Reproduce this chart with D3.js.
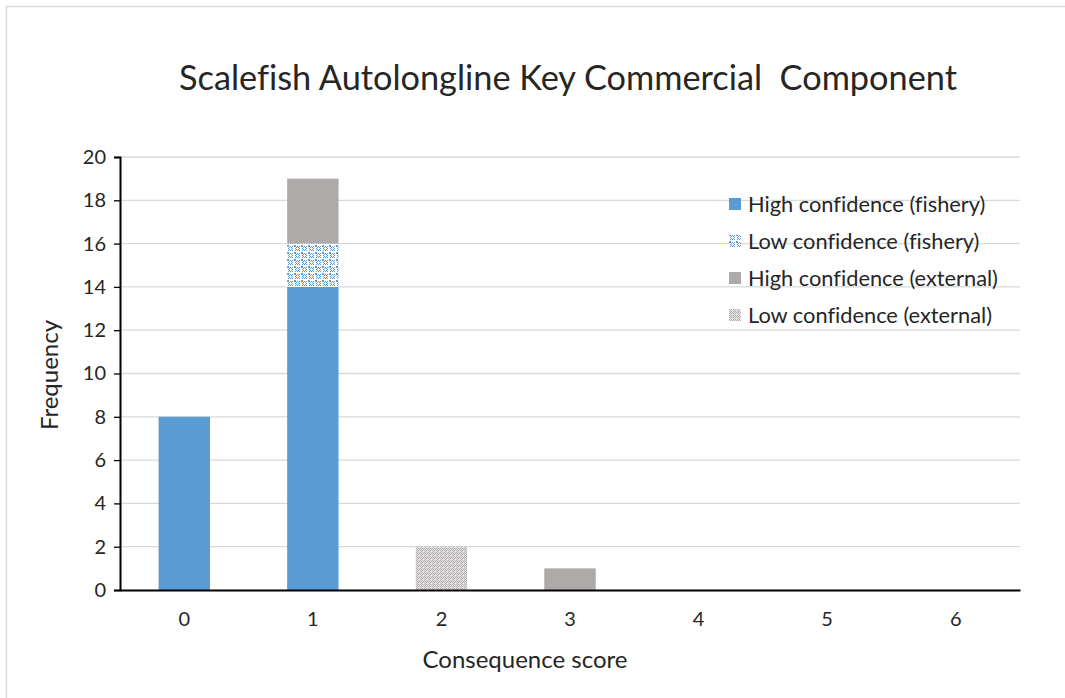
<!DOCTYPE html>
<html>
<head>
<meta charset="utf-8">
<script src="https://cdn.jsdelivr.net/npm/d3@7"></script>
<style>
  body { margin: 0; background: #fff; }
  svg text { font-family: Lato, "Open Sans", sans-serif; fill: #262626; font-variant-ligatures: none; }
</style>
</head>
<body>
<svg id="chart" width="1065" height="698"></svg>
<script>
var scores = ['0', '1', '2', '3', '4', '5', '6'];
var highFishery = [8, 14, 0, 0, 0, 0, 0];
var lowFishery = [0, 2, 0, 0, 0, 0, 0];
var highExternal = [0, 3, 0, 1, 0, 0, 0];
var lowExternal = [0, 0, 2, 0, 0, 0, 0];
var seriesNames = ['High confidence (fishery)', 'Low confidence (fishery)',
                   'High confidence (external)', 'Low confidence (external)'];
var yTicks = [0, 2, 4, 6, 8, 10, 12, 14, 16, 18, 20];

var svg = d3.select('#chart');
var defs = svg.append('defs');

function px(p, x0, y0, w, h, c) {
  p.append('rect').attr('x', x0).attr('y', y0).attr('width', w).attr('height', h).attr('fill', c);
}

// blue lattice pattern (open diamonds)
var p1 = defs.append('pattern').attr('id', 'lowFish')
  .attr('patternUnits', 'userSpaceOnUse').attr('width', 7).attr('height', 7);
px(p1, 0, 0, 7, 7, '#fff');
[[0, 0], [1, 0], [0, 1], [1, 1], [3, 1], [2, 2], [4, 2], [1, 3], [5, 3], [2, 4], [4, 4], [3, 5],
 [5, 1], [1, 5], [5, 5]].forEach(function(c) {
  px(p1, c[0], c[1], 1, 1, '#5b9bd5');
});

// grey checker pattern
var p2 = defs.append('pattern').attr('id', 'lowExt')
  .attr('patternUnits', 'userSpaceOnUse').attr('width', 4).attr('height', 4);
px(p2, 0, 0, 4, 4, '#e4e2e2');
[[0, 0], [2, 0], [1, 1], [3, 1], [0, 2], [2, 2], [1, 3]].forEach(function(c) {
  px(p2, c[0], c[1], 1, 1, '#b4b0b0');
});

var fills = ['#5b9bd5', 'url(#lowFish)', '#aeaaaa', 'url(#lowExt)'];

// chart border
svg.append('rect').attr('x', 6.5).attr('y', 6.5).attr('width', 1070).attr('height', 700)
  .attr('fill', 'none').attr('stroke', '#d9d9d9').attr('stroke-width', 1.5);

var plotLeft = 120, plotRight = 1020, plotTop = 157, plotBottom = 590;

var x = d3.scaleBand().domain(scores).range([plotLeft, plotRight]).paddingInner(0.6).paddingOuter(0.3);
var y = d3.scaleLinear().domain([0, 20]).range([plotBottom, plotTop]);

// gridlines
svg.append('g').selectAll('line').data(yTicks.slice(1)).enter().append('line')
  .attr('x1', plotLeft).attr('x2', plotRight)
  .attr('y1', function(d) { return y(d); }).attr('y2', function(d) { return y(d); })
  .attr('stroke', '#d9d9d9').attr('stroke-width', 1.3);

// stacked bars
var table = scores.map(function(s, i) {
  return { score: s, a: highFishery[i], b: lowFishery[i], c: highExternal[i], d: lowExternal[i] };
});
var stack = d3.stack().keys(['a', 'b', 'c', 'd'])(table);

svg.append('g').selectAll('g').data(stack).enter().append('g')
  .attr('fill', function(d, i) { return fills[i]; })
  .selectAll('rect').data(function(d) { return d; }).enter().append('rect')
  .attr('x', function(d) { return x(d.data.score); })
  .attr('width', x.bandwidth())
  .attr('y', function(d) { return y(d[1]); })
  .attr('height', function(d) { return y(d[0]) - y(d[1]); });

// y axis
var yAxis = svg.append('g').attr('transform', 'translate(' + plotLeft + ',0)')
  .call(d3.axisLeft(y).tickValues(yTicks).tickSize(6).tickPadding(8).tickSizeOuter(6));
yAxis.select('.domain').attr('stroke', '#000').attr('stroke-width', 2);
yAxis.selectAll('.tick line').attr('stroke', '#000').attr('stroke-width', 1.3);
yAxis.selectAll('text').attr('font-size', 20).attr('fill', '#262626')
  .attr('font-family', 'Lato, "Open Sans", sans-serif');

// x axis
var xAxis = svg.append('g').attr('transform', 'translate(0,' + plotBottom + ')')
  .call(d3.axisBottom(x).tickSize(0).tickPadding(22).tickSizeOuter(0));
xAxis.select('.domain').attr('stroke', '#000').attr('stroke-width', 2);
xAxis.selectAll('text').attr('font-size', 20).attr('fill', '#262626')
  .attr('font-family', 'Lato, "Open Sans", sans-serif');

// titles
svg.append('text').attr('x', 568).attr('y', 90).attr('text-anchor', 'middle')
  .attr('font-size', 34.3).style('white-space', 'pre')
  .text('Scalefish Autolongline Key Commercial  Component');
svg.append('text').attr('x', 525).attr('y', 668).attr('text-anchor', 'middle')
  .attr('font-size', 24).text('Consequence score');
svg.append('text').attr('transform', 'translate(58,375) rotate(-90)').attr('text-anchor', 'middle')
  .attr('font-size', 24).text('Frequency');

// legend
var legend = svg.append('g').selectAll('g').data(seriesNames).enter().append('g')
  .attr('transform', function(d, i) { return 'translate(729,' + (204 + i * 37) + ')'; });
legend.append('rect').attr('x', 0).attr('y', -6).attr('width', 12).attr('height', 12)
  .attr('fill', function(d, i) { return fills[i]; });
legend.append('text').attr('x', 19).attr('y', 7.5).attr('font-size', 21.8)
  .text(function(d) { return d; });
</script>
</body>
</html>
